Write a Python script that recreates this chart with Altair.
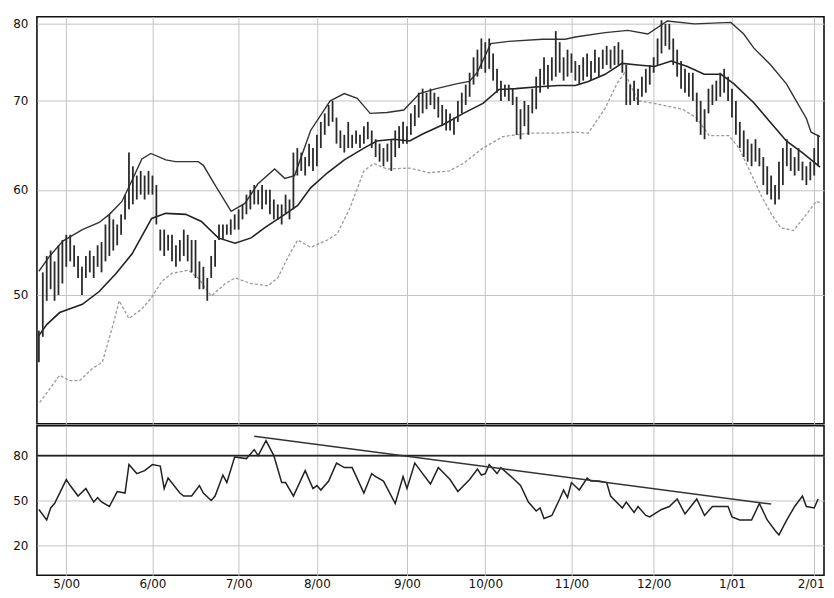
import altair as alt
import pandas as pd

# ---- price bars (trading-day index 0 = 19 Apr 2000) ----
bar_low = [
    44.5, 46.5, 49.5, 50.5, 49.5, 50.0, 51.0, 52.5, 53.0, 52.5,
    51.5, 50.0, 51.5, 52.0, 51.5, 52.5, 52.0, 53.0, 53.5, 54.0,
    54.5, 55.5, 57.0, 58.0, 58.5, 59.0, 59.5, 59.0, 59.5, 59.5,
    56.5, 54.0, 53.5, 54.0, 53.0, 52.5, 53.0, 53.5, 53.0, 52.0,
    51.5, 50.5, 50.5, 49.5, 51.5, 52.5, 55.0, 55.0, 55.5, 55.5,
    56.0, 56.0, 57.0, 57.5, 58.0, 58.5, 58.5, 58.0, 58.5, 57.5,
    57.0, 57.0, 56.5, 57.5, 57.0, 58.0, 61.5, 62.0, 61.5, 62.5,
    62.0, 62.5, 64.5, 66.0, 67.0, 67.5, 65.0, 64.5, 64.0, 64.5,
    64.5, 65.0, 64.5, 65.0, 65.5, 64.5, 63.5, 63.0, 62.5, 63.0,
    62.0, 63.5, 64.5, 65.0, 65.0, 66.0, 67.0, 68.0, 68.5, 69.0,
    69.5, 69.0, 68.0, 67.0, 66.5, 66.5, 66.0, 67.5, 68.5, 69.5,
    70.5, 72.0, 73.0, 74.0, 73.5, 74.0, 72.5, 71.0, 70.0, 70.5,
    70.0, 69.5, 66.0, 65.5, 67.0, 66.0, 68.5, 69.0, 71.0, 72.0,
    71.5, 72.5, 73.0, 73.5, 72.5, 73.0, 73.5, 72.5, 72.0, 72.5,
    73.0, 72.5, 73.5, 73.0, 74.0, 74.5, 74.0, 74.5, 74.5, 73.5,
    69.5, 69.5, 70.0, 69.5, 70.5, 71.0, 72.0, 73.5, 74.5, 76.0,
    77.0, 76.5, 74.5, 73.0, 71.5, 71.0, 70.5, 70.0, 67.5, 66.0,
    65.5, 68.5, 69.5, 70.0, 70.5, 71.0, 70.0, 68.0, 66.0, 64.5,
    63.5, 63.0, 62.5, 63.0, 62.5, 60.5, 59.5, 59.0, 58.5, 59.0,
    60.5, 62.5, 62.0, 61.5, 62.0, 61.0, 60.5, 61.0, 61.5, 62.5,
]
bar_high = [
    47.0, 52.0, 53.5, 54.0, 53.0, 54.5, 55.0, 55.5, 55.5, 54.5,
    53.5, 52.5, 53.5, 54.0, 53.5, 54.5, 54.8, 56.5, 57.5, 57.0,
    56.5, 57.5, 59.5, 64.0, 62.5, 61.5, 62.0, 61.5, 62.0, 61.5,
    60.5, 56.0, 56.0, 55.5, 55.5, 54.5, 55.0, 56.0, 55.5, 55.0,
    55.0, 53.0, 52.5, 51.5, 53.5, 55.0, 56.5, 56.5, 56.5, 57.0,
    57.5, 58.0, 58.5, 59.5, 60.0, 60.5, 60.0, 60.5, 60.0, 60.0,
    59.0, 58.5, 58.5, 59.5, 59.0, 64.0, 64.5, 64.0, 63.5, 65.0,
    64.5, 66.0, 67.5, 68.5, 69.5, 70.0, 68.0, 66.5, 66.0, 67.5,
    66.0, 66.5, 66.0, 67.0, 67.5, 66.5, 65.5, 65.0, 64.5, 65.0,
    65.5, 66.5, 67.0, 67.5, 67.0, 68.5, 69.5, 71.0, 71.5, 71.0,
    71.5, 71.0, 70.5, 69.5, 69.0, 68.5, 68.0, 70.0, 71.0, 72.0,
    73.5, 75.5, 76.5, 78.0, 77.5, 78.0, 76.0, 74.0, 72.5, 72.0,
    72.0, 71.5, 70.5, 69.0, 70.0, 69.5, 71.5, 73.0, 74.0, 75.5,
    74.5, 75.5, 79.0, 77.5, 75.5, 76.5, 76.0, 75.0, 74.5, 75.5,
    76.0, 75.0, 76.5, 75.5, 76.5, 77.0, 76.5, 77.0, 77.5, 76.5,
    74.5, 72.0, 72.5, 71.5, 73.0, 74.0, 74.5, 75.5, 78.0, 80.5,
    80.0, 80.0, 78.0, 76.5, 75.0, 74.0, 73.5, 73.5, 71.0, 70.0,
    69.0, 71.5, 72.0, 72.5, 73.5, 74.0, 73.0, 71.5, 70.0, 67.5,
    66.5, 65.5, 65.0, 65.5, 64.5, 63.5, 62.5, 61.5, 60.5, 63.0,
    64.5, 65.5, 64.5, 63.5, 64.5, 63.0, 62.5, 63.0, 64.5, 66.0,
]

# ---- Bollinger bands ----
upper_idx = [0, 2.8, 6.1, 11.1, 15.4, 18, 21.2, 23.8, 26.3, 28.6, 32.4, 34.9, 40.7, 42,
             45, 49.1, 52.6, 55.9, 60.2, 62.8, 65.3, 69.4, 74.4, 78, 81.3, 84.6, 88.9,
             93.2, 97.2, 101.5, 106.6, 109.9, 111.9, 115.4, 120, 128.6, 134.4, 137,
             144.6, 150.4, 155.5, 160.5, 167.4, 176.7, 180, 182.6, 186.9, 190.9, 193.4,
             196, 197.2, 199.5]
upper_val = [52.1, 53.5, 54.9, 56.0, 56.7, 57.5, 58.8, 61.0, 63.3, 63.9, 63.2, 63.0, 63.0, 62.6,
             60.5, 57.8, 58.6, 60.6, 62.2, 61.2, 61.5, 66.5, 70.0, 70.9, 70.3, 68.5, 68.6,
             68.9, 70.9, 71.5, 72.1, 72.4, 73.5, 77.3, 77.6, 77.9, 77.9, 78.2,
             78.8, 79.1, 78.6, 80.4, 80.0, 80.2, 78.6, 76.7, 74.5, 72.1, 70.0,
             67.9, 66.3, 65.8]
mid_idx = [0, 2, 5.3, 11.1, 15.4, 19.7, 23.8, 28.8, 32.4, 37.5, 41.5, 45.8, 50.1, 54.2,
           57.7, 62.8, 66.1, 69.4, 73.7, 78, 83, 86.3, 90.6, 94.7, 98, 103.3, 108.4,
           113.4, 117.5, 121.8, 126.8, 132.7, 137, 140.3, 144.6, 148.9, 153, 157.2,
           161.5, 165.6, 169.9, 174.2, 177.5, 182.5, 186.9, 190.9, 195.2, 199.5]
mid_val = [46.6, 47.5, 48.5, 49.2, 50.3, 51.9, 53.7, 57.1, 57.6, 57.5, 56.8, 55.2, 54.7, 55.2,
           56.2, 57.5, 58.4, 60.2, 61.8, 63.2, 64.5, 65.3, 65.5, 65.3, 66.1, 67.2, 68.5,
           69.7, 71.4, 71.5, 71.7, 71.9, 71.9, 72.4, 73.3, 74.7, 74.5, 74.3,
           75.0, 74.3, 73.3, 73.3, 72.1, 69.8, 67.4, 65.3, 63.9, 62.4]
lower_idx = [0.2, 2.8, 5.3, 7.8, 10.4, 13.6, 16.2, 18.7, 20.5, 23, 26.3, 28.8, 31.4, 33.9,
             38.2, 40.7, 44, 47.6, 50.1, 54.2, 58.5, 61, 63.5, 66.1, 69.4, 73.7, 76.2,
             79.5, 83, 85.5, 88.9, 94.7, 99.7, 104.8, 108.4, 113.4, 118.5, 125.1, 132.7,
             137, 140.3, 144.6, 147.6, 149.6, 153, 156, 164.3, 167.9, 171.2, 176.2,
             178.8, 184.6, 187.1, 189.4, 192.7, 196, 198.5, 200]
lower_val = [41.5, 42.5, 43.5, 43.1, 43.1, 44.0, 44.5, 47.2, 49.5, 48.0, 48.8, 49.8, 51.2, 51.9,
             52.2, 51.5, 49.9, 51.0, 51.5, 51.0, 50.8, 51.5, 53.3, 55.0, 54.3, 55.0, 55.6,
             58.2, 62.0, 62.8, 62.2, 62.3, 61.8, 62.0, 62.8, 64.5, 65.8, 66.2, 66.2,
             66.3, 66.2, 69.1, 72.1, 73.5, 70.0, 69.8, 69.0, 68.0, 65.9, 65.9,
             64.5, 59.3, 57.5, 56.2, 55.9, 57.5, 58.8, 58.6]

# ---- oscillator ----
rsi_idx = [0, 2, 3, 4, 7, 8, 10, 12, 14, 15, 16, 18, 20, 22, 23, 25, 27, 29, 31, 32, 33,
           36, 37, 39, 41, 42, 44, 45, 47, 48, 50, 53, 55, 56, 57, 58, 60, 62, 63, 65,
           68, 70, 71, 72, 74, 76, 78, 80, 83, 85, 86, 88, 91, 93, 94, 96, 98, 100, 102,
           105, 107, 110, 112, 113, 114, 115, 117, 118, 121, 123, 125, 127, 128, 129,
           131, 133, 134, 135, 136, 138, 140, 141, 143, 145, 146, 149, 150, 152, 153,
           155, 156, 159, 161, 163, 165, 168, 170, 172, 176, 177, 179, 182, 184, 186,
           188, 189, 191, 193, 195, 196, 198, 199]
rsi_val = [44, 37, 45, 48, 64, 60, 53, 58, 49, 52, 49, 46, 56, 55, 74, 68, 70, 74, 73, 58, 65,
           55, 53, 53, 60, 55, 50, 53, 67, 62, 79, 78, 84, 80, 85, 90, 80, 62, 62, 53,
           70, 58, 60, 57, 63, 75, 72, 72, 55, 68, 66, 63, 48, 66, 58, 75, 68, 61, 72,
           64, 56, 64, 71, 67, 68, 74, 68, 72, 65, 60, 49, 43, 45, 38,
           40, 51, 57, 52, 62, 57, 65, 63, 63, 62, 53, 45, 49, 42, 46,
           40, 39, 44, 46, 51, 41, 51, 40, 46, 46, 39, 37, 37, 48, 37,
           30, 27, 37, 46, 53, 46, 45, 51]
trend_idx = [55, 187]
trend_val = [93.0, 47.6]
osc_ref = [80]

# ---- axes ----
month_idx = [7, 29, 51, 71, 94, 114, 136, 157, 177, 198]
month_labels = ['5/00', '6/00', '7/00', '8/00', '9/00', '10/00', '11/00', '12/00', '1/01', '2/01']
price_ticks = [50, 60, 70, 80]
osc_ticks = [20, 50, 80]

W = 789
FONT = 'DejaVu Sans'
GRID = '#c4c4c4'
INK = '#2b2b2b'

xscale = alt.Scale(domain=[-0.5, 200.5], nice=False, zero=False)
pscale = alt.Scale(type='log', domain=[40, 81], nice=False)
oscale = alt.Scale(domain=[0, 100], nice=False, zero=False)

label_expr = "[" + ",".join("'%s'" % m for m in month_labels) + "][indexof([" + \
    ",".join(str(v) for v in month_idx) + "], datum.value)]"

x_top = alt.X('i:Q', scale=xscale, title=None,
              axis=alt.Axis(values=month_idx, labels=False, ticks=False, domain=False,
                            grid=True, gridColor=GRID))
x_bot = alt.X('i:Q', scale=xscale, title=None,
              axis=alt.Axis(values=month_idx, labelExpr=label_expr, ticks=False, domain=False,
                            grid=True, gridColor=GRID, labelPadding=3, labelFont=FONT,
                            labelFontSize=12, labelColor='#111',
                            labelFlush=11, labelFlushOffset=10))

def yaxis(vals):
    return alt.Axis(values=vals, title=None, tickSize=0, labelPadding=9, domain=False,
                    grid=True, gridColor=GRID, labelFont=FONT, labelFontSize=12,
                    labelColor='#111', minExtent=26, maxExtent=26)

bars = pd.DataFrame({'i': list(range(len(bar_low))), 'lo': bar_low, 'hi': bar_high})
up = pd.DataFrame({'i': upper_idx, 'v': upper_val})
md = pd.DataFrame({'i': mid_idx, 'v': mid_val})
lw = pd.DataFrame({'i': lower_idx, 'v': lower_val})

bar_layer = alt.Chart(bars).mark_rule(color=INK, strokeWidth=1.8).encode(
    x=x_top, y=alt.Y('lo:Q', scale=pscale, axis=yaxis(price_ticks)), y2='hi:Q')
up_layer = alt.Chart(up).mark_line(color='#333', strokeWidth=1.4).encode(
    x=x_top, y=alt.Y('v:Q', scale=pscale, axis=yaxis(price_ticks)))
md_layer = alt.Chart(md).mark_line(color='#222', strokeWidth=1.6).encode(
    x=x_top, y=alt.Y('v:Q', scale=pscale, axis=yaxis(price_ticks)))
lw_layer = alt.Chart(lw).mark_line(color='#9a9a9a', strokeWidth=1.3, strokeDash=[3, 2]).encode(
    x=x_top, y=alt.Y('v:Q', scale=pscale, axis=yaxis(price_ticks)))

top = alt.layer(lw_layer, up_layer, md_layer, bar_layer).properties(width=W, height=408)

rsi = pd.DataFrame({'i': rsi_idx, 'v': rsi_val})
tr = pd.DataFrame({'i': trend_idx, 'v': trend_val})
ref = pd.DataFrame({'v': osc_ref})

ref_layer = alt.Chart(ref).mark_rule(color='#222', strokeWidth=1.6).encode(
    y=alt.Y('v:Q', scale=oscale, axis=yaxis(osc_ticks)))
rsi_layer = alt.Chart(rsi).mark_line(color='#222', strokeWidth=1.5).encode(
    x=x_bot, y=alt.Y('v:Q', scale=oscale, axis=yaxis(osc_ticks)))
tr_layer = alt.Chart(tr).mark_line(color='#333', strokeWidth=1.5).encode(
    x=x_bot, y=alt.Y('v:Q', scale=oscale, axis=yaxis(osc_ticks)))

bottom = alt.layer(rsi_layer, ref_layer, tr_layer).properties(width=W, height=150)

chart = alt.vconcat(top, bottom, spacing=0).properties(
    padding={'left': 2, 'top': 7, 'right': 0, 'bottom': 0},
    background='white'
).configure_view(stroke='#111', strokeWidth=1.6)

chart.save("out.html", embed_options={"renderer": "svg", "actions": False})
